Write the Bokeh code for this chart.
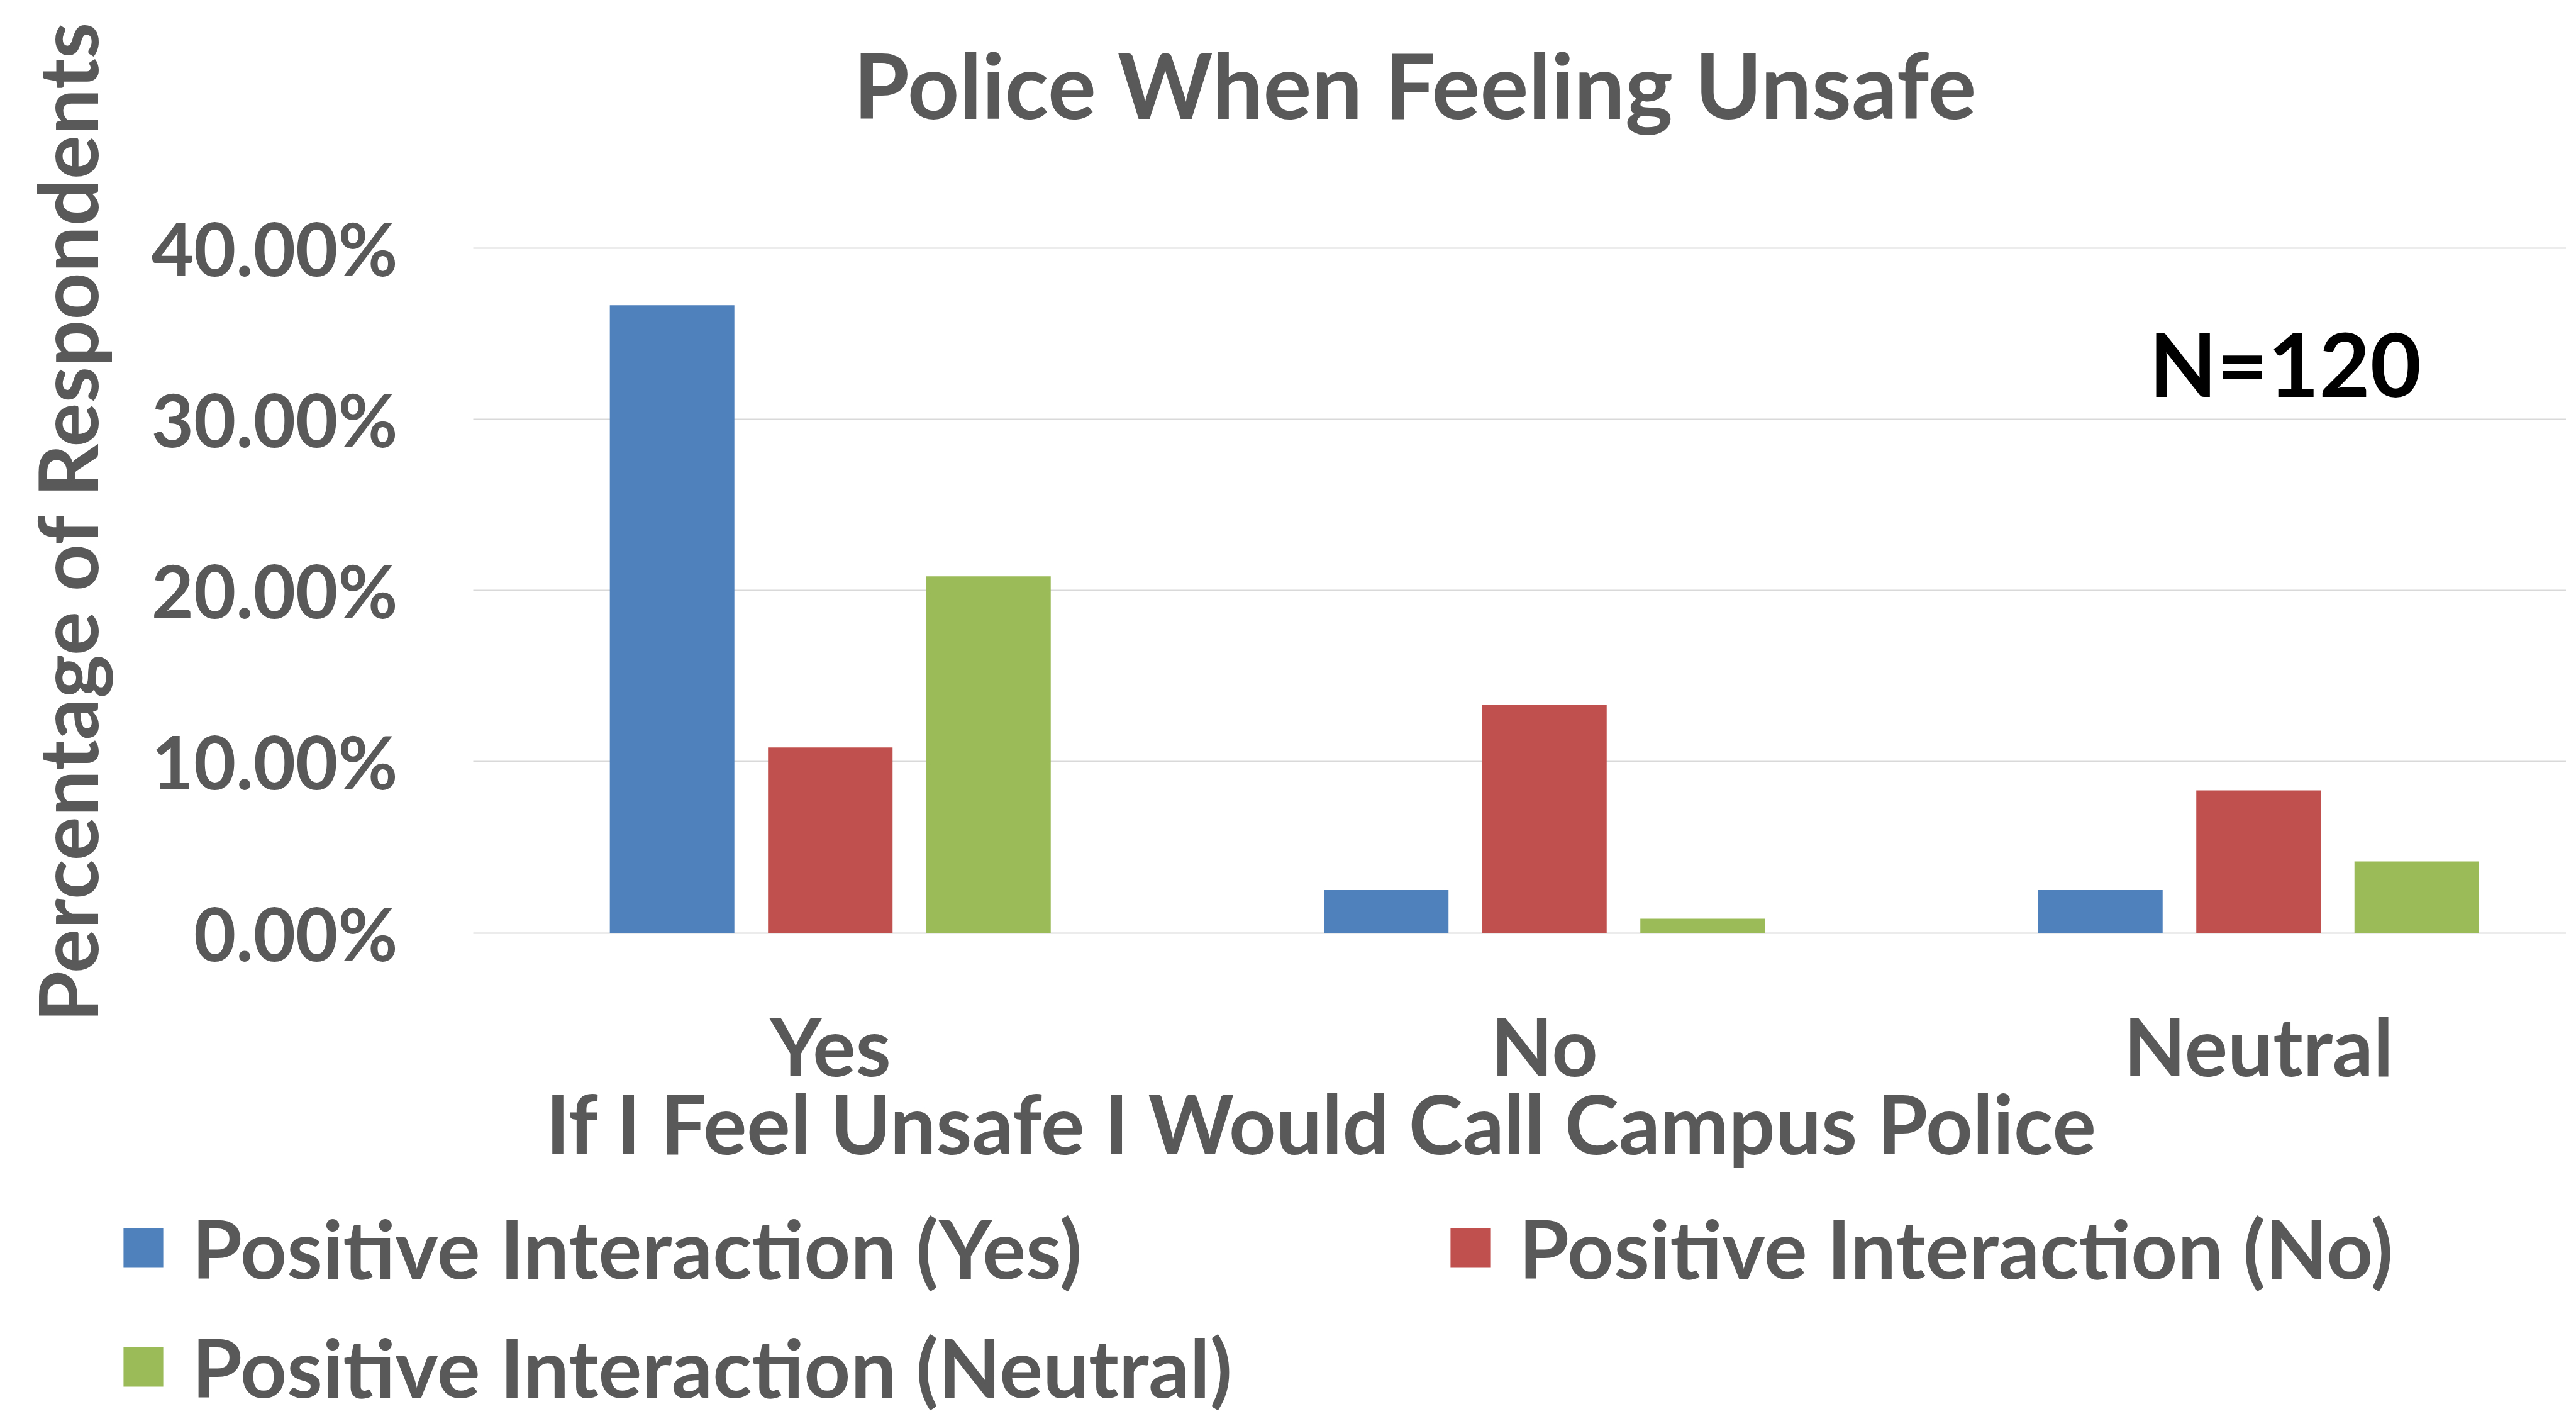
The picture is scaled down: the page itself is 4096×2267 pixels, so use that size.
import math
from bokeh.plotting import figure
from bokeh.models import Range1d, FixedTicker, PrintfTickFormatter, Label
from bokeh.embed import file_html
from bokeh.resources import INLINE

# ---- data (percent of respondents, N=120) ----
categories = ["Yes", "No", "Neutral"]
series_names = ["Positive Interaction (Yes)", "Positive Interaction (No)", "Positive Interaction (Neutral)"]
pos_yes = [36.67, 2.50, 2.50]
pos_no = [10.83, 13.33, 8.33]
pos_neutral = [20.83, 0.83, 4.17]
y_ticks = [0, 10, 20, 30, 40]
title_text = "Police When Feeling Unsafe"
x_title = "If I Feel Unsafe I Would Call Campus Police"
y_title = "Percentage of Respondents"
note_text = "N=120"

colors = ["#4F81BD", "#C0504D", "#9BBB59"]
text_grey = "#595959"
grid_grey = "#D9D9D9"
FONT = "Lato"

# ---- geometry: the frame covers the whole figure; axes are fixed inside it ----
W, H = 4080, 2251
S = 0.892                      # reference -> page scale
X0 = S * 843                   # x of the value axis (px)
Y0 = S * 1662                  # y of the 0% line (px)
PX_PER_CAT = S * 1273
PX_PER_Y = S * 30.5
x_range = Range1d(-X0 / PX_PER_CAT, (W - X0) / PX_PER_CAT)
y_range = Range1d((Y0 - H) / PX_PER_Y, Y0 / PX_PER_Y)

def fx(xref):
    return (S * xref - X0) / PX_PER_CAT

def fy(yref):
    return (Y0 - S * yref) / PX_PER_Y

p = figure(width=W, height=H, output_backend="svg", toolbar_location=None,
           x_range=x_range, y_range=y_range, title=None, min_border=0)
p.outline_line_color = None
p.background_fill_color = "white"
p.border_fill_color = "white"

cat_x = [i + 0.5 for i in range(len(categories))]
bar_w = 0.1744
offs = [-0.2215, 0.0, 0.2215]
for vals, name, col, off in zip([pos_yes, pos_no, pos_neutral], series_names, colors, offs):
    p.vbar(x=[c + off for c in cat_x], top=vals, bottom=0, width=bar_w,
           fill_color=col, line_color=None, legend_label=name)

# grid
p.xgrid.visible = False
p.ygrid.ticker = FixedTicker(ticks=y_ticks)
p.ygrid.grid_line_color = grid_grey
p.ygrid.grid_line_width = 2
grid_ok = True
try:
    p.ygrid.cross_bounds = (0, x_range.end)
except Exception:
    grid_ok = False

# y axis (fixed at x=0)
ya = p.yaxis[0]
ya.fixed_location = 0
ya.ticker = FixedTicker(ticks=y_ticks)
ya.formatter = PrintfTickFormatter(format="%.2f%%")
ya.axis_line_color = None
ya.minor_tick_line_color = None
ya.major_tick_out = 0
ya.major_label_standoff = 120
ya.major_label_text_font = FONT
ya.major_label_text_font_style = "bold"
ya.major_label_text_font_size = "116px"
ya.major_label_text_color = text_grey
if grid_ok:
    ya.major_tick_line_color = None
    ya.major_tick_in = 0
else:
    p.ygrid.visible = False
    ya.major_tick_line_color = grid_grey
    ya.major_tick_line_width = 2
    ya.major_tick_in = int(W - X0)

# x axis (fixed at y=0)
xa = p.xaxis[0]
xa.fixed_location = 0
xa.ticker = FixedTicker(ticks=cat_x)
xa.major_label_overrides = {c: n for c, n in zip(cat_x, categories)}
xa.axis_line_color = None
xa.major_tick_line_color = None
xa.minor_tick_line_color = None
xa.major_tick_out = 0
xa.major_tick_in = 0
xa.major_label_standoff = 102
xa.major_label_text_font = FONT
xa.major_label_text_font_style = "bold"
xa.major_label_text_font_size = "128px"
xa.major_label_text_color = text_grey

def add_label(xref, yref, text, size, color=text_grey, angle=0.0, dx=0.0, dy=0.0):
    p.add_layout(Label(x=fx(xref) + dx / PX_PER_CAT, y=fy(yref) + dy / PX_PER_Y, text=text,
                       text_align="center", text_baseline="middle",
                       text_font=FONT, text_font_style="bold", text_font_size=size,
                       text_color=color, angle=angle))

# positions: centres of the capitals in the reference
add_label(2522, 154, title_text, "144px", dy=4)
add_label(2356, 2004.5, x_title, "130px", dy=4)
add_label(122.5, 929, y_title, "131px", angle=math.pi / 2, dx=-4)
add_label(4073, 651, note_text, "140px", color="black", dy=4)

# legend (two columns, Excel-like)
LEG_FS = 129
row_h = 1.2 * LEG_FS
row1_c, row2_c = 1982.0, 2172.0
lg = p.legend[0]
lg.location = (S * 211, H - (row2_c + row_h / 2))
lg.orientation = "horizontal"
lg.ncols = 2
lg.glyph_width = 79
lg.glyph_height = 79
lg.label_standoff = 38
lg.spacing = int(round(row2_c - row1_c - row_h))
lg.label_width = int(round(S * (2576 - 211) - 79 - 38 - lg.spacing))
lg.padding = 0
lg.margin = 0
lg.border_line_color = None
lg.background_fill_alpha = 0
lg.label_text_font = FONT
lg.label_text_font_style = "bold"
lg.label_text_font_size = f"{LEG_FS}px"
lg.label_text_color = text_grey

open("out.html", "w").write(file_html(p, INLINE))
